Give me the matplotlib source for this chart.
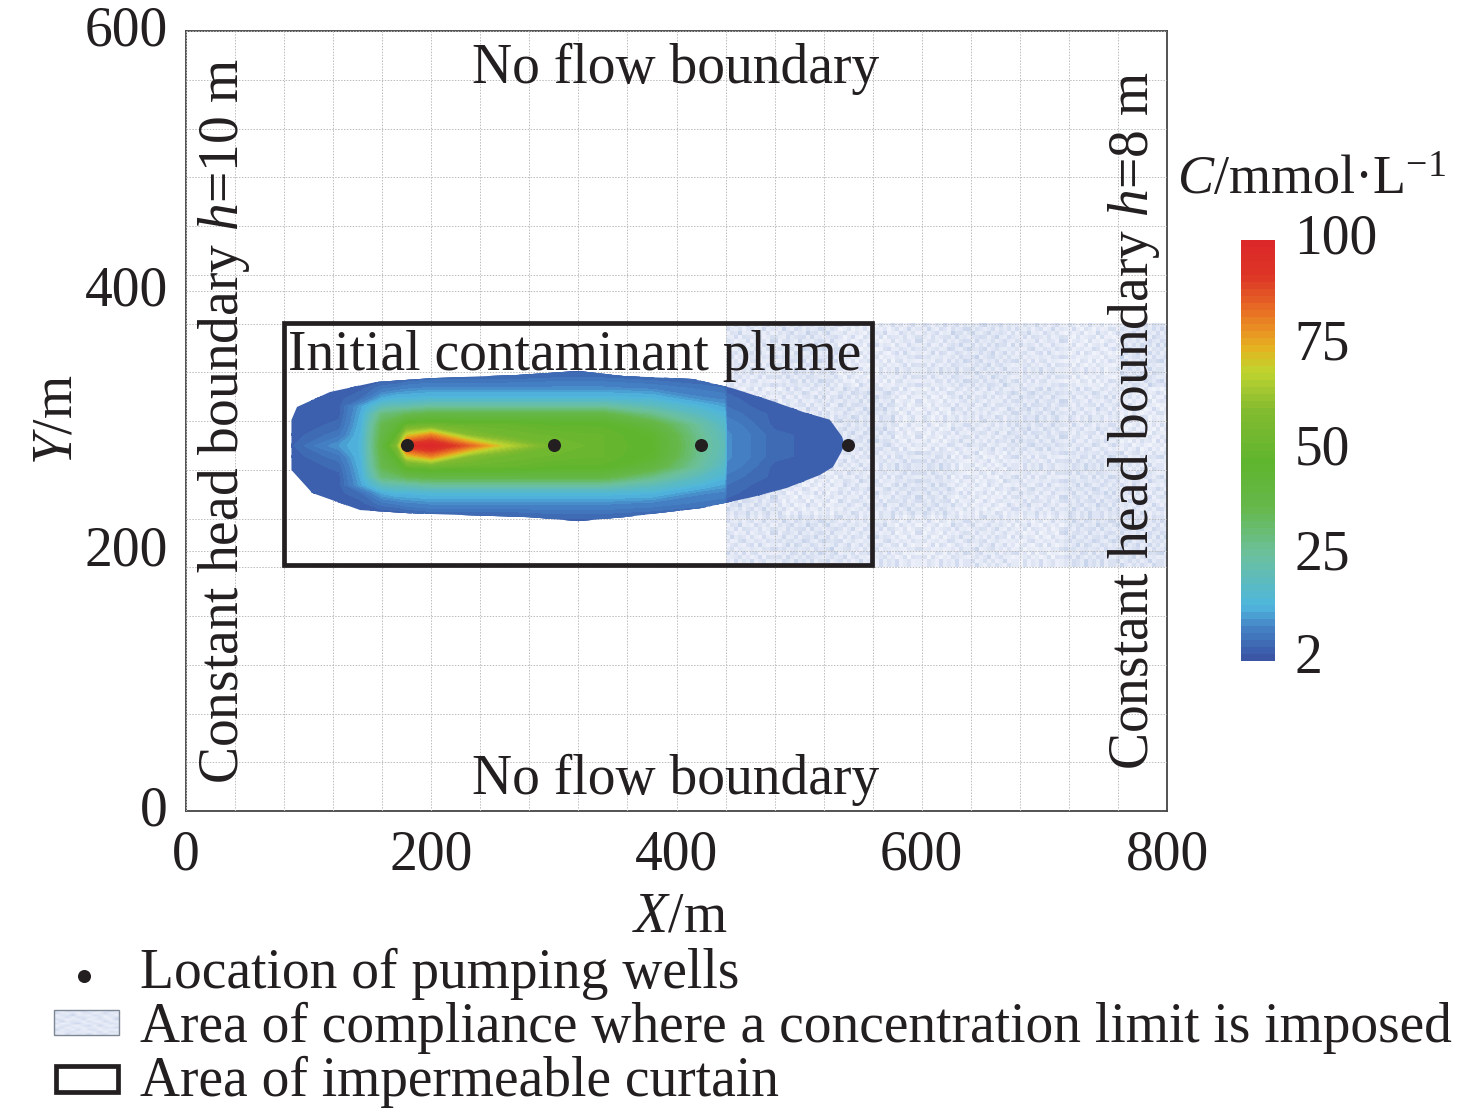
import numpy as np
from matplotlib import pyplot as plt
from matplotlib import cm
from matplotlib.colors import LinearSegmentedColormap, Normalize
from matplotlib.patches import Polygon, Rectangle

plt.rcParams['font.family'] = ['Liberation Serif', 'DejaVu Serif']
plt.rcParams['mathtext.fontset'] = 'custom'
plt.rcParams['mathtext.rm'] = 'Liberation Serif'
plt.rcParams['mathtext.it'] = 'Liberation Serif:italic'
plt.rcParams['font.size'] = 40

INK = '#231f20'

# Wells
well_x = [180, 300, 420, 540]
well_y = [281.5, 281.5, 281.5, 281.5]

# Curtain and compliance area
curtain_x = [80, 559.5]
curtain_y = [189, 375.5]
compliance_x = [440, 800]
compliance_y = [187.5, 375]

# Plume outline
plume_x = [86, 90.5, 117.4, 155, 201.4, 270, 320, 357, 413.5, 445, 476, 503, 525, 535, 537,
           534, 527.6, 517, 490, 462, 420, 357, 320, 280, 182.7, 142, 103, 86]
plume_y = [300.8, 310.8, 322.3, 330, 333, 335.4, 338.5, 334.6, 332.3, 325.4, 316, 307, 301, 288, 281.5,
           275.4, 264.6, 258.5, 248.5, 241.5, 233, 226, 223, 226, 229, 231.5, 244.6, 262.3]

# Concentration, one row per distance from the plume axis at y=281
conc_x = [80, 125, 143, 160, 172, 180, 200, 230, 260, 300, 340, 380, 420, 439, 441, 480, 540]
conc_dy = [0, 8, 16, 24, 30, 36, 44, 52, 60]
conc = [
    [2, 10, 14, 40, 58, 95, 100, 85, 68, 54, 50, 47, 27, 20, 9, 4, 2],
    [2, 6, 14, 38, 48, 70, 80, 60, 53, 51, 50, 46, 26, 19, 9, 4, 2],
    [2, 4, 13, 36, 42, 50, 52, 50, 50, 48, 48, 40, 24, 17, 8, 3, 2],
    [2, 3, 12, 30, 32, 35, 38, 38, 38, 38, 38, 28, 18, 14, 6, 3, 2],
    [2, 3, 11, 20, 22, 22, 25, 25, 25, 25, 25, 20, 14, 11, 5, 2, 2],
    [2, 3, 5, 12, 14, 14, 15, 15, 15, 15, 15, 14, 9, 8, 4, 2, 2],
    [2, 2, 3, 6, 7, 8, 9, 9, 9, 9, 9, 8, 6, 5, 3, 2, 2],
    [2, 2, 2, 2, 2, 3, 4, 4, 4, 5, 5, 4, 3, 3, 2, 2, 2],
    [2, 2, 2, 2, 2, 2, 2, 2, 2, 2, 2, 2, 2, 2, 2, 2, 2],
]

# Colour bar
cbar_ticks = [0.5, 25, 50, 75, 100]
cbar_labels = ['2', '25', '50', '75', '100']
cmap_stops = [(0.0, '#3a56a5'), (0.07, '#4480c4'), (0.125, '#4fb6de'), (0.25, '#6cc09c'), (0.36, '#66b84c'),
              (0.47, '#5fb52e'), (0.6, '#85bb30'), (0.69, '#c0d42f'), (0.75, '#e6b020'), (0.83, '#e97325'),
              (0.92, '#dd3526'), (1.0, '#dc2828')]

# Speckle shades of the compliance area
speckle = [
    [.4, .1, .6, .3, .3, .8, .2, .5, .1, .4, .7, .2],
    [.7, .3, .2, .5, .1, .4, .6, .1, .3, .8, .2, .4],
    [.1, .5, .4, .9, .2, .3, .1, .7, .4, .2, .5, .1],
    [.3, .2, .7, .1, .6, .5, .4, .2, .6, .1, .3, .6],
    [.6, .4, .1, .3, .2, .7, .1, .3, .5, .4, .1, .8],
    [.2, .8, .3, .5, .4, .1, .6, .2, .1, .7, .3, .2],
    [.5, .1, .2, .6, .8, .3, .2, .5, .4, .2, .6, .4],
    [.1, .4, .6, .2, .1, .5, .7, .1, .8, .3, .1, .3],
    [.3, .6, .1, .4, .3, .2, .4, .3, .2, .5, .4, .7],
    [.8, .2, .5, .1, .7, .1, .5, .6, .1, .3, .2, .1],
    [.2, .3, .4, .6, .2, .4, .1, .3, .7, .1, .6, .5],
    [.4, .1, .7, .2, .5, .3, .8, .2, .4, .6, .2, .3],
]
blotch = [
    [.0, .1, -.1, .0, .1, .0, -.1, .1],
    [-.1, .0, .1, -.1, .0, .1, .0, -.1],
    [.1, -.1, .0, .1, -.1, .0, .1, .0],
    [.0, .1, .0, -.1, .0, -.1, .1, .1],
]
speckle_cmap = LinearSegmentedColormap.from_list('speckle', ['#f1f3fb', '#c5d2ea'])

plume_cmap = LinearSegmentedColormap.from_list('plume', cmap_stops, N=60)
norm = Normalize(0, 100)

fig = plt.figure(figsize=(14.76, 11.12), dpi=100)
ax = fig.add_axes([186 / 1476, 1 - 811 / 1112, 981 / 1476, 780 / 1112])

# Compliance area: tile flipped around so it does not show a pattern
t = np.array(speckle)
block = np.block([[t, np.fliplr(t), np.rot90(t)], [np.flipud(t), np.rot90(t, 2), np.rot90(t, 3)]])
rows, cols = 61, 110
tex = np.tile(block, (3, 4))[:rows, :cols]
tex = tex + np.kron(np.array(blotch), np.ones((16, 14)))[:rows, :cols]
ax.imshow(tex, cmap=speckle_cmap, vmin=0, vmax=1, extent=[compliance_x[0], compliance_x[1], compliance_y[0], compliance_y[1]],
          aspect='auto', interpolation='nearest', zorder=1)

# Grid
ax.set_xlim(0, 800)
ax.set_ylim(0, 600)
ax.set_xticks(range(0, 801, 200))
ax.set_yticks(range(0, 601, 200))
ax.set_xticks(np.arange(0, 801, 40), minor=True)
ax.set_yticks(np.arange(0, 601, 37.5), minor=True)
ax.grid(which='both', color='#bcbcbc', linestyle=(0, (1.5, 1.5)), linewidth=0.7, zorder=2)
ax.set_axisbelow(False)
ax.tick_params(which='both', length=0)
ax.tick_params(axis='x', pad=13, colors=INK)
ax.tick_params(axis='y', pad=13, colors=INK)
for lab in ax.get_yticklabels():
    lab.set_verticalalignment('center')
for s in ax.spines.values():
    s.set_color('#444444')
    s.set_linewidth(1.3)

# Plume, mirrored around its axis and clipped to the outline
half = np.array(conc, dtype=float)
field = np.vstack([half[::-1], half[1:]])
dy = np.array(conc_dy, dtype=float)
grid_y = 281 + np.concatenate([-dy[::-1], dy[1:]])
cs = ax.contourf(conc_x, grid_y, field, levels=np.linspace(0, 100, 201), cmap=plume_cmap, norm=norm, zorder=3)
outline = Polygon(np.column_stack([plume_x, plume_y]), closed=True, transform=ax.transData, facecolor='none', edgecolor='none')
ax.add_patch(outline)
cs.set_clip_path(outline)
cs.set_edgecolor('face')
cs.set_linewidth(0.3)

ax.plot(well_x, well_y, 'o', color=INK, markersize=9.4, markeredgewidth=0, zorder=5)

ax.add_patch(Rectangle((curtain_x[0], curtain_y[0]), curtain_x[1] - curtain_x[0], curtain_y[1] - curtain_y[0],
                       facecolor='none', edgecolor=INK, linewidth=3.4, zorder=6))

ax.text(399, 571, 'No flow boundary', ha='center', va='center', color=INK, zorder=7)
ax.text(399, 24, 'No flow boundary', ha='center', va='center', color=INK, zorder=7)
ax.text(317, 350, 'Initial contaminant plume', ha='center', va='center', color=INK, zorder=7)
ax.text(31, 300, 'Constant head boundary $h$=10 m', rotation=90, ha='center', va='center', color=INK, zorder=7)
ax.text(773, 300, 'Constant head boundary $h$=8 m', rotation=90, ha='center', va='center', color=INK, zorder=7)

fig.text(680 / 1476, 1 - 917 / 1112, '$X$/m', ha='center', va='center', color=INK)
fig.text(57 / 1476, 1 - 420 / 1112, '$Y$/m', rotation=90, ha='center', va='center', color=INK)

# Colour bar
cax = fig.add_axes([1241 / 1476, 1 - 661 / 1112, 34 / 1476, 421 / 1112])
cb = fig.colorbar(cm.ScalarMappable(norm=norm, cmap=plume_cmap), cax=cax)
cb.set_ticks([])
cb.outline.set_visible(False)
for val, lab in zip(cbar_ticks, cbar_labels):
    cax.annotate(lab, xy=(1, val), xycoords=('axes fraction', 'data'), xytext=(14, 0), textcoords='offset points',
                 va='center', ha='left', color=INK, annotation_clip=False)
fig.text(1312 / 1476, 1 - 181 / 1112, '$C$/mmol·L$^{-1}$', ha='center', va='center', color=INK, fontsize=39)

# Legend, drawn in pixel coordinates
lg = fig.add_axes([0, 0, 1, 1], facecolor='none')
lg.axis('off')
lg.plot([84], [976], 'o', color=INK, markersize=9.4, markeredgewidth=0)
lg.imshow(t, cmap=speckle_cmap, vmin=0, vmax=1, extent=[54, 119, 1035, 1010], aspect='auto',
          interpolation='bilinear')
lg.add_patch(Rectangle((54, 1010), 65, 25, facecolor='none', edgecolor='#7d8794', linewidth=1))
lg.add_patch(Rectangle((56, 1066), 62, 26, facecolor='white', edgecolor=INK, linewidth=3.4))
lg.set_xlim(0, 1476)
lg.set_ylim(1112, 0)
lg.text(139.5, 974, 'Location of pumping wells', va='center', color=INK)
lg.text(139.5, 1028, 'Area of compliance where a concentration limit is imposed', va='center', color=INK)
lg.text(139.5, 1082, 'Area of impermeable curtain', va='center', color=INK)

plt.savefig('out.png', dpi=100)
